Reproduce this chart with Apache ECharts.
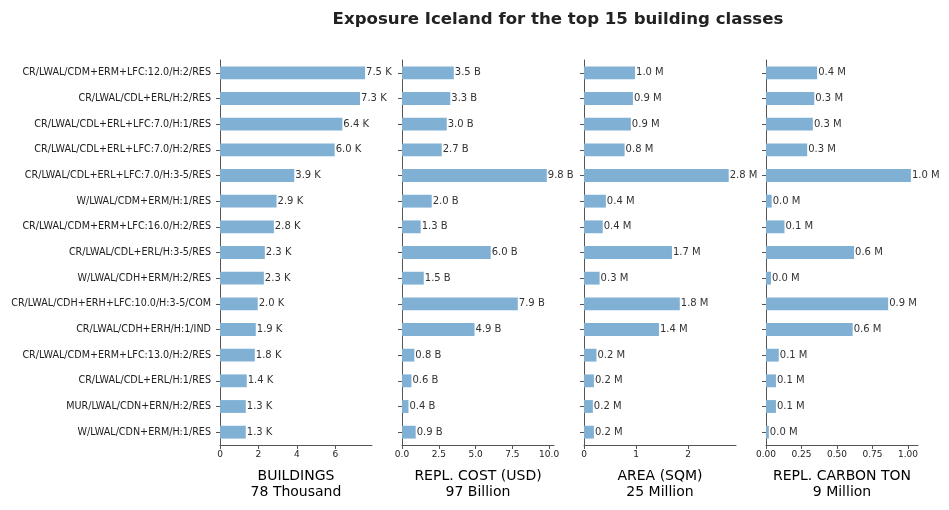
<!DOCTYPE html>
<html lang="en">
<head>
    <meta charset="UTF-8">
    <title>Exposure Iceland</title>
    <script src="https://cdn.jsdelivr.net/npm/echarts@6/dist/echarts.min.js"></script>
    <style>
        * {padding: 0; margin: 0;}
        body {background: #fff;}
        #main {width: 949px; height: 510px;}
    </style>
</head>
<body>
    <div id="main"></div>
    <script>
        const categories = [
            'CR/LWAL/CDM+ERM+LFC:12.0/H:2/RES',
            'CR/LWAL/CDL+ERL/H:2/RES',
            'CR/LWAL/CDL+ERL+LFC:7.0/H:1/RES',
            'CR/LWAL/CDL+ERL+LFC:7.0/H:2/RES',
            'CR/LWAL/CDL+ERL+LFC:7.0/H:3-5/RES',
            'W/LWAL/CDM+ERM/H:1/RES',
            'CR/LWAL/CDM+ERM+LFC:16.0/H:2/RES',
            'CR/LWAL/CDL+ERL/H:3-5/RES',
            'W/LWAL/CDH+ERM/H:2/RES',
            'CR/LWAL/CDH+ERH+LFC:10.0/H:3-5/COM',
            'CR/LWAL/CDH+ERH/H:1/IND',
            'CR/LWAL/CDM+ERM+LFC:13.0/H:2/RES',
            'CR/LWAL/CDL+ERL/H:1/RES',
            'MUR/LWAL/CDN+ERN/H:2/RES',
            'W/LWAL/CDN+ERM/H:1/RES'
        ];

        // thousands of buildings
        const buildings = [7.54, 7.28, 6.36, 5.96, 3.86, 2.94, 2.80, 2.33, 2.28, 1.96, 1.86, 1.81, 1.39, 1.34, 1.34];
        // billion USD
        const replCost = [3.52, 3.28, 3.04, 2.70, 9.84, 2.02, 1.27, 6.03, 1.48, 7.87, 4.93, 0.84, 0.64, 0.44, 0.93];
        // million sqm
        const area = [0.98, 0.94, 0.90, 0.78, 2.78, 0.42, 0.36, 1.69, 0.30, 1.84, 1.44, 0.24, 0.19, 0.17, 0.19];
        // million ton
        const carbon = [0.36, 0.34, 0.33, 0.29, 1.02, 0.04, 0.13, 0.62, 0.035, 0.86, 0.61, 0.09, 0.07, 0.07, 0.02];

        const ticksBuildings = [0, 2, 4, 6];
        const ticksCost = [0, 2.5, 5, 7.5, 10];
        const ticksArea = [0, 1, 2];
        const ticksCarbon = [0, 0.25, 0.5, 0.75, 1];

        const panels = [
            {data: buildings, unit: 'K', max: 7.9, ticks: ticksBuildings, dec: 0, name: 'BUILDINGS\n78 Thousand'},
            {data: replCost, unit: 'B', max: 10.33, ticks: ticksCost, dec: 1, name: 'REPL. COST (USD)\n97 Billion'},
            {data: area, unit: 'M', max: 2.92, ticks: ticksArea, dec: 0, name: 'AREA (SQM)\n25 Million'},
            {data: carbon, unit: 'M', max: 1.07, ticks: ticksCarbon, dec: 2, name: 'REPL. CARBON TON\n9 Million'}
        ];

        const axisColor = '#555';
        const font = 'DejaVu Sans';

        const chart = echarts.init(document.getElementById('main'));

        const grids = [], xAxes = [], yAxes = [], series = [];
        panels.forEach(function(p, i) {
            grids.push({left: 220 + i * 182, top: 60, width: 152, height: 385});
            xAxes.push({
                type: 'value', gridIndex: i, min: 0, max: p.max,
                splitLine: {show: false},
                axisLine: {show: true, lineStyle: {color: axisColor}},
                axisTick: {show: true, length: 4, lineStyle: {color: axisColor}, customValues: p.ticks},
                axisLabel: {
                    customValues: p.ticks, fontSize: 9, color: '#222', fontFamily: font, margin: 5,
                    formatter: function(v) { return v.toFixed(p.dec); }
                },
                name: p.name, nameLocation: 'middle', nameGap: 23,
                nameTextStyle: {fontSize: 14, color: '#000', fontFamily: font, lineHeight: 16}
            });
            yAxes.push({
                type: 'category', gridIndex: i, data: categories, inverse: true,
                axisLine: {show: true, lineStyle: {color: axisColor}},
                axisTick: {show: true, length: 4, alignWithLabel: true, lineStyle: {color: axisColor}},
                axisLabel: {show: i === 0, fontSize: 9.6, color: '#222', fontFamily: font, margin: 9}
            });
            series.push({
                type: 'bar', xAxisIndex: i, yAxisIndex: i, data: p.data,
                barWidth: '50%',
                itemStyle: {color: '#80b0d4'},
                label: {
                    show: true, position: 'right', distance: 1, fontSize: 10, color: '#333', fontFamily: font,
                    formatter: function(params) { return params.value.toFixed(1) + ' ' + p.unit; }
                },
                animation: false
            });
        });

        chart.setOption({
            title: {
                text: 'Exposure Iceland for the top 15 building classes',
                left: 553, top: 6, textAlign: 'center',
                textStyle: {fontSize: 16.6, fontWeight: 'bold', color: '#222', fontFamily: font}
            },
            grid: grids,
            xAxis: xAxes,
            yAxis: yAxes,
            series: series
        });
    </script>
</body>
</html>
